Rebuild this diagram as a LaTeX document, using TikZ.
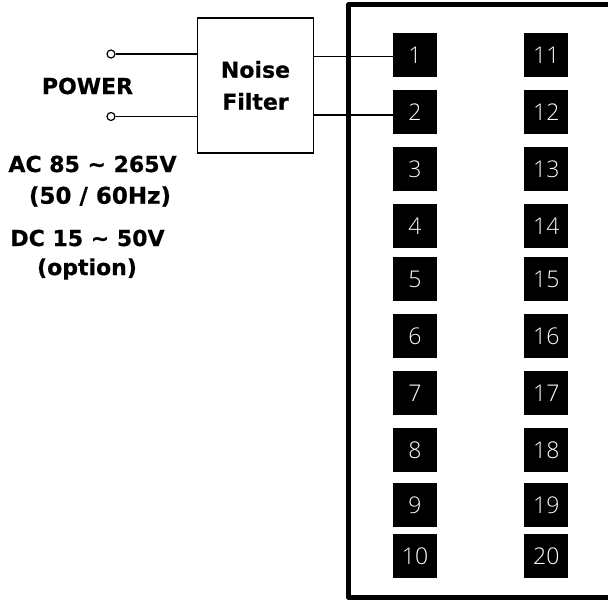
\documentclass[tikz,border=0pt]{standalone}
\usepackage{fontspec}
\setmainfont[BoldFeatures={FakeBold=0.6}]{DejaVu Sans}
\newfontfamily\numfont{Open Sans Light}
\usepackage{tikz}

\tikzset{
    pinbox/.style={fill=black, text=white, minimum size=44pt, inner sep=0pt, font=\numfont\fontsize{23}{23}\selectfont},
    boldtext/.style={font=\bfseries\fontsize{22}{22}\selectfont, inner sep=0pt},
    wire/.style={line width=1.4pt},
    terminal/.style={circle, draw, line width=1.2pt, fill=white, minimum size=8pt, inner sep=0pt}
}

\begin{document}
\begin{tikzpicture}[x=1pt, y=-1pt]
    \useasboundingbox (0,0) rectangle (608,601);

    % Enclosure
    \draw[line width=4.5pt, line join=round] (608,4.5) -- (348.5,4.5) -- (348.5,597.5) -- (608,597.5);

    % Filter
    \node[draw, line width=1.5pt, minimum width=116pt, minimum height=135pt, inner sep=0pt, font=\bfseries\fontsize{22}{32}\selectfont, align=center] (filter) at (255.5,85.5) {Noise\\Filter};

    % Pins
    \foreach \n/\y in {1/55.3,2/112,3/169,4/226.3,5/279.3,6/336.3,7/393.2,8/450,9/505,10/556} {
        \node[pinbox] (p\n) at (415,\y) {\n};
    }
    \foreach \n/\y in {11/55.3,12/112,13/169,14/226.3,15/279.3,16/336.3,17/393.2,18/450,19/505,20/556} {
        \node[pinbox] (p\n) at (546.3,\y) {\n};
    }

    % Power terminals
    \node[terminal] (ta) at (111,54) {};
    \node[terminal] (tb) at (111,116.5) {};
    \draw[wire] (ta) -- (ta -| filter.west);
    \draw[wire] (tb) -- (tb -| filter.west);

    % Filter outputs
    \draw[wire] ([yshift=-1.2pt]p1.west) -- ([yshift=-1.2pt]p1.west -| filter.east);
    \draw[wire] ([yshift=-3pt]p2.west) -- ([yshift=-3pt]p2.west -| filter.east);

    % Labels
    \node[boldtext] (power) at (87.5,86) {POWER};
    \node[boldtext] (ac) at (92.5,164) {AC 85 \textasciitilde{} 265V};
    \node[boldtext, font=\bfseries\fontsize{23}{23}\selectfont] (hz) at (100,196.5) {(50 / 60Hz)};
    \node[boldtext] (dc) at (87.5,238) {DC 15 \textasciitilde{} 50V};
    \node[boldtext] (opt) at (87,269) {(option)};
\end{tikzpicture}
\end{document}
